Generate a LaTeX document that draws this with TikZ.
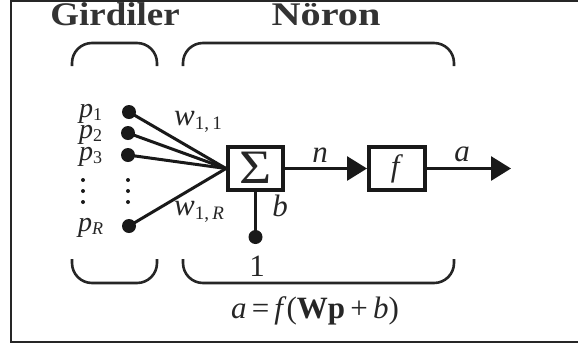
\documentclass[tikz,border=0pt]{standalone}
\usepackage{fontspec}
\setmainfont{Liberation Serif}
\usetikzlibrary{arrows.meta}
\begin{document}
\begin{tikzpicture}[x=1pt,y=-1pt,
  frameline/.style={draw=black!85,line width=1.5pt},
  brace/.style={draw=black!85,line width=2.6pt,rounded corners=20pt},
  wire/.style={draw=black!90,line width=3pt},
  boxnode/.style={draw=black!90,line width=4pt,minimum width=55pt,minimum height=43pt,inner sep=0pt},
  dot/.style={circle,fill=black!90,minimum size=14pt,inner sep=0pt},
  smalldot/.style={circle,fill=black!90,minimum size=4pt,inner sep=0pt},
  lbl/.style={text=black!85,font=\fontsize{31}{34}\selectfont,inner sep=0pt},
  plbl/.style={text=black!85,font=\fontsize{28}{30}\selectfont,inner sep=0pt,anchor=base west},
  title/.style={text=black!80,font=\fontsize{33}{35}\selectfont\bfseries,inner sep=0pt,anchor=base},
  tip/.style={-{Triangle[length=20pt,width=24pt]}}
]
\useasboundingbox (0,0) rectangle (578,349);
% frame (right side cropped)
\draw[frameline] (578,1) -- (11,1) -- (11,342) -- (578,342);
% titles
\node[title] (tg) at (115,25) {\scalebox{1.12}[1]{Girdiler}};
\node[title] (tn) at (326,25) {\scalebox{1.22}[1]{Nöron}};
% brackets
\draw[brace] (72,66) -- (72,43) -- (157,43) -- (157,66);
\draw[brace] (183,66) -- (183,43) -- (454,43) -- (454,66);
\draw[brace] (72,259) -- (72,283) -- (157,283) -- (157,259);
\draw[brace] (183,259) -- (183,283) -- (454,283) -- (454,259);
% boxes
\node[boxnode] (sum) at (255.5,168.5) {};
\node[lbl,font=\fontsize{48}{50}\selectfont] at ([yshift=1pt]sum.center) {\scalebox{1.15}[1]{Σ}};
\node[boxnode,minimum width=56pt] (fb) at (397,168.5) {};
\node[lbl] at (fb.center) {\textit{f}};
% input dots
\node[dot] (d1) at (129,112) {};
\node[dot] (d2) at (128,133) {};
\node[dot] (d3) at (128,155) {};
\node[dot] (dR) at (129,226) {};
\foreach \yy [count=\i] in {180,191,202}{
  \node[smalldot] (el\i) at (83,\yy) {};
  \node[smalldot] (er\i) at (128,\yy) {};
}
% input labels
\node[plbl] (p1) at (79,117) {\textit{p}\raisebox{-3pt}{\fontsize{18}{20}\selectfont 1}};
\node[plbl] (p2) at (79,138) {\textit{p}\raisebox{-3pt}{\fontsize{18}{20}\selectfont 2}};
\node[plbl] (p3) at (79,160) {\textit{p}\raisebox{-3pt}{\fontsize{18}{20}\selectfont 3}};
\node[plbl] (pR) at (78,231) {\textit{p}\raisebox{-3pt}{\fontsize{18}{20}\selectfont\itshape R}};
% weights
\draw[wire] (d1.center) -- (sum.west);
\draw[wire] (d2.center) -- (sum.west);
\draw[wire] (d3.center) -- (sum.west);
\draw[wire] (dR.center) -- (sum.west);
\node[lbl,anchor=base west] (w11) at (174,125) {\textit{w}\raisebox{-4pt}{\fontsize{19}{20}\selectfont 1,\,1}};
\node[lbl,anchor=base west] (w1R) at (174,215) {\textit{w}\raisebox{-4pt}{\fontsize{19}{20}\selectfont 1,\,\textit{R}}};
% bias
\node[dot] (bd) at (255.5,237) {};
\draw[wire] (sum.south) -- (bd.center);
\node[lbl,anchor=base] (bl) at (280,216) {\textit{b}};
\node[lbl,anchor=base] (one) at (257,276) {1};
% outputs
\draw[wire,tip] (sum.east) -- (fb.west);
\node[lbl,anchor=base] (nl) at (320,162) {\textit{n}};
\coordinate (out) at (511,168.5);
\draw[wire,tip] (fb.east) -- (out);
\node[lbl,anchor=base] (al) at (462,161) {\textit{a}};
% equation
\node[lbl,anchor=base] (eq) at (315,318) {\textit{a}\,=\,\textit{f}(\textbf{Wp}\,+\,\textit{b})};
\end{tikzpicture}
\end{document}
